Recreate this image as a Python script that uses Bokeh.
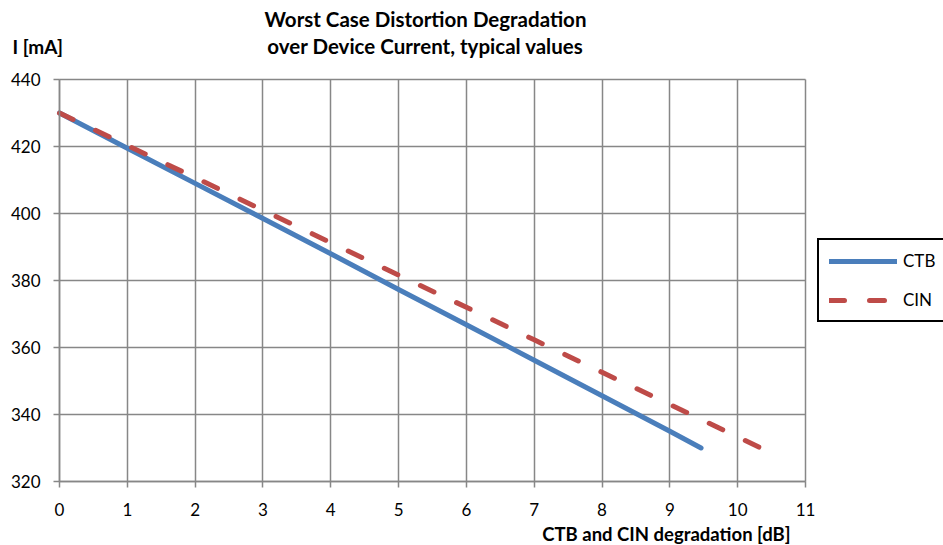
from bokeh.plotting import figure
from bokeh.models import Legend, LegendItem, Label, Range1d, FixedTicker
from bokeh.embed import file_html
from bokeh.resources import INLINE

# Data
ctb_x = [0, 1, 2, 3, 4, 5, 6, 7, 8, 9, 9.46]
ctb_y = [430, 419.5, 409, 398.5, 388, 377.3, 366.8, 356.2, 345.6, 335, 330]
cin_x = [0, 1, 2, 3, 4, 5, 6, 7, 8, 9, 10, 10.34]
cin_y = [430, 420.3, 410.7, 401, 391.3, 381.6, 372, 362.3, 352.6, 343, 333.3, 330]
x_ticks = list(range(0, 12))
y_ticks = [320, 340, 360, 380, 400, 420, 440]
title_lines = ["Worst Case Distortion Degradation", "over Device Current, typical values"]
y_title = "I [mA]"
x_title = "CTB and CIN degradation [dB]"

FONT = "Lato"
GRID = "#878787"

# layout (pixels)
W, H = 943, 545
PL, PR, PT, PB = 59, 805, 79, 481
X0, X1 = x_ticks[0], x_ticks[-1]
Y0, Y1 = y_ticks[0], y_ticks[-1]
sx = (PR - PL) / (X1 - X0)
sy = (PB - PT) / (Y1 - Y0)

p = figure(width=W, height=H, output_backend="svg", toolbar_location=None, title=None,
           x_range=Range1d(X0 - PL / sx, X0 + (W - PL) / sx),
           y_range=Range1d(Y0 - (H - PB) / sy, Y1 + PT / sy),
           min_border=0, min_border_left=0, min_border_right=0,
           min_border_top=0, min_border_bottom=0)
p.outline_line_color = None

for ax in (p.xaxis[0], p.yaxis[0]):
    ax.axis_line_color = GRID
    ax.axis_line_width = 1.5
    ax.major_tick_line_color = GRID
    ax.major_tick_line_width = 1.5
    ax.major_tick_out = 6
    ax.major_tick_in = 0
    ax.minor_tick_line_color = None
    ax.major_label_text_font = FONT
    ax.major_label_text_font_size = "17px"
    ax.major_label_text_color = "black"
p.xaxis.ticker = FixedTicker(ticks=x_ticks)
p.yaxis.ticker = FixedTicker(ticks=y_ticks)
p.xaxis.fixed_location = Y0
p.yaxis.fixed_location = X0
p.xaxis.bounds = (X0, X1)
p.yaxis.bounds = (Y0, Y1)
p.xaxis.major_label_standoff = 15
p.yaxis.major_label_standoff = 13

p.xgrid.ticker = FixedTicker(ticks=x_ticks)
p.ygrid.ticker = FixedTicker(ticks=y_ticks)
p.xgrid.bounds = (X0, X1)
p.ygrid.bounds = (Y0, Y1)
p.xgrid.cross_bounds = (Y0, Y1)
p.ygrid.cross_bounds = (X0, X1)
for g in (p.xgrid[0], p.ygrid[0]):
    g.grid_line_color = GRID
    g.grid_line_width = 1.5

r_ctb = p.line(ctb_x, ctb_y, line_color="#4A7EBB", line_width=5, line_cap="round", line_join="round")
r_cin = p.line(cin_x, cin_y, line_color="#BE4B48", line_width=5, line_dash="15 25",
               line_cap="round", line_join="round")

legend = Legend(items=[LegendItem(label="CTB", renderers=[r_ctb]),
                       LegendItem(label="CIN", renderers=[r_cin])],
                location=(817, H - 322), glyph_width=68, glyph_height=20, spacing=18,
                padding=10, margin=0, label_standoff=6,
                border_line_color="black", border_line_width=2, border_line_alpha=1.0,
                label_text_font=FONT, label_text_font_size="17px",
                label_text_color="black", background_fill_color="white",
                background_fill_alpha=1.0)
p.add_layout(legend, "center")

for i, line in enumerate(title_lines):
    p.add_layout(Label(x=(X0 + X1) / 2, y=Y1, x_offset=-7, y_offset=PT - 18 - 27 * i, text=line,
                       text_font=FONT, text_font_size="20.5px", text_font_style="bold",
                       text_baseline="middle", text_align="center", text_color="black"))
p.add_layout(Label(x=X0, y=Y1, x_offset=-47, y_offset=PT - 46, text=y_title,
                   text_font=FONT, text_font_size="19px", text_font_style="bold",
                   text_baseline="middle", text_align="left", text_color="black"))
p.add_layout(Label(x=X1, y=Y0, x_offset=-15, y_offset=-(533 - PB), text=x_title,
                   text_font=FONT, text_font_size="18.5px", text_font_style="bold",
                   text_baseline="middle", text_align="right", text_color="black"))

open("out.html", "w").write(file_html(p, INLINE))
